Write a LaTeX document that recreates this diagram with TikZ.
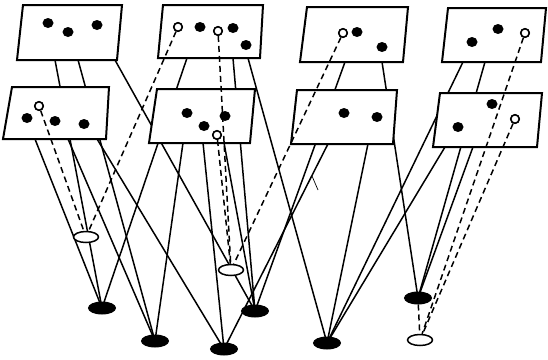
\documentclass[tikz,border=0pt]{standalone}
\usetikzlibrary{shapes.geometric}
\begin{document}
\begin{tikzpicture}[x=1pt,y=-1pt,
  wire/.style={line width=1.5pt},
  dwire/.style={line width=1.5pt, dash pattern=on 6pt off 4pt},
  box/.style={line width=2pt, fill=white, line join=miter},
  fdot/.style={ellipse, fill=black, minimum width=11pt, minimum height=10pt, inner sep=0pt},
  odot/.style={circle, draw, fill=white, line width=1.5pt, minimum size=8.5pt, inner sep=0pt},
  fcell/.style={ellipse, fill=black, draw, line width=1pt, minimum width=27pt, minimum height=12pt, inner sep=0pt},
  ocell/.style={ellipse, fill=white, draw, line width=1.5pt, minimum width=25pt, minimum height=11pt, inner sep=0pt}]
\useasboundingbox (0,0) rectangle (548,359);
% cell centres
\coordinate (cE1) at (86,237);
\coordinate (cE2) at (231,270);
\coordinate (cE3) at (420,340);
\coordinate (cF1) at (102,308);
\coordinate (cF2) at (155,341);
\coordinate (cF3) at (224,349);
\coordinate (cF4) at (255,311);
\coordinate (cF5) at (327,343);
\coordinate (cF6) at (418,298);
% hidden starts in the upper boxes
\coordinate (sA1) at (53.1,50);
\coordinate (sA2) at (75.3,50);
\coordinate (sA3) at (109.4,50);
\coordinate (sB1) at (190.4,48);
\coordinate (sB2) at (232.1,48);
\coordinate (sB3) at (245.2,48);
\coordinate (sC1) at (348.6,52);
\coordinate (sC2) at (380.5,52);
\coordinate (sD1) at (467.8,52);
\coordinate (sD2) at (487.8,52);
% lines from upper boxes
\draw[wire] (sA1) -- (cF1);
\draw[wire] (sA2) -- (cF2);
\draw[wire] (sA3) -- (cF4);
\draw[wire] (sB1) -- (cF1);
\draw[wire] (sB2) -- (cF4);
\draw[wire] (sB3) -- (cF5);
\draw[wire] (sC1) -- (cF4);
\draw[wire] (sC2) -- (cF6);
\draw[wire] (sD1) -- (cF5);
\draw[wire] (sD2) -- (cF6);
% upper boxes
\draw[box] (23,5) -- (122,5) -- (117,60) -- (17,60) -- cycle;
\draw[box] (163,5) -- (263,5) -- (260,58) -- (158,58) -- cycle;
\draw[box] (307,7) -- (408,7) -- (403,62) -- (300,62) -- cycle;
\draw[box] (448,8) -- (546,8) -- (541,62) -- (442,62) -- cycle;
\node[fdot] (a1) at (48,23) {};
\node[fdot] (a2) at (68,32) {};
\node[fdot] (a3) at (97,25) {};
\node[fdot] (b1) at (200,27) {};
\node[fdot] (b2) at (233,28) {};
\node[fdot] (b3) at (246,45) {};
\node[fdot] (c1) at (357,32) {};
\node[fdot] (c2) at (382,47) {};
\node[fdot] (d1) at (472,42) {};
\node[fdot] (d2) at (498,29) {};
% hidden starts in the lower boxes
\coordinate (sM1) at (31,129);
\coordinate (sM2) at (63.7,129);
\coordinate (sM3) at (91,129);
\coordinate (sN1) at (184.4,133);
\coordinate (sN2) at (202,133);
\coordinate (sN3) at (222.2,133);
\coordinate (sP1) at (333,134);
\coordinate (sP2) at (370,134);
\coordinate (sQ1) at (451,137);
\coordinate (sQ2) at (476.6,137);
\draw[wire] (sM1) -- (cF1);
\draw[wire] (sM2) -- (cF2);
\draw[wire] (sM3) -- (cF3);
\draw[wire] (sN1) -- (cF2);
\draw[wire] (sN2) -- (cF3);
\draw[wire] (sN3) -- (cF4);
\draw[wire] (sP1) -- (cF3);
\draw[wire] (sP2) -- (cF5);
\draw[wire] (sQ1) -- (cF5);
\draw[wire] (sQ2) -- (cF6);
% lower boxes
\draw[box] (12,87) -- (109,87) -- (106,139) -- (3,139) -- cycle;
\draw[box] (157,89) -- (255,89) -- (250,143) -- (149,143) -- cycle;
\draw[box] (297,90) -- (397,90) -- (393,144) -- (291,144) -- cycle;
\draw[box] (440,93) -- (542,93) -- (537,147) -- (433,147) -- cycle;
\node[fdot] (m1) at (27,118) {};
\node[fdot] (m2) at (55,121) {};
\node[fdot] (m3) at (84,124) {};
\node[fdot] (n1) at (187,113) {};
\node[fdot] (n2) at (204,126) {};
\node[fdot] (n3) at (225,116) {};
\node[fdot] (p1) at (344,113) {};
\node[fdot] (p2) at (377,117) {};
\node[fdot] (q1) at (492,104) {};
\node[fdot] (q2) at (458,127) {};
% stray tick
\coordinate (k1) at (312,176);
\coordinate (k2) at (318,190);
\draw[line width=0.7pt] (k1) -- (k2);
% cells
\node[ocell] (E1) at (cE1) {};
\node[ocell] (E2) at (cE2) {};
\node[ocell] (E3) at (cE3) {};
\node[fcell] (F1) at (cF1) {};
\node[fcell] (F2) at (cF2) {};
\node[fcell] (F3) at (cF3) {};
\node[fcell] (F4) at (cF4) {};
\node[fcell] (F5) at (cF5) {};
\node[fcell] (F6) at (cF6) {};
% open dots
\node[odot] (bo1) at (178,27) {};
\node[odot] (bo2) at (218,31) {};
\node[odot] (co1) at (343,33) {};
\node[odot] (do1) at (525,33) {};
\node[odot] (mo1) at (39,106) {};
\node[odot] (no1) at (217,135) {};
\node[odot] (qo1) at (515,119) {};
% dashed connectors
\draw[dwire] (bo1) -- (E1);
\draw[dwire] (mo1) -- (E1);
\draw[dwire] (bo2) -- (E2);
\draw[dwire] (no1) -- (E2);
\draw[dwire] (co1) -- (E2);
\draw[dwire] (do1) -- (E3);
\draw[dwire] (qo1) -- (E3);
\draw[dwire] (F6) -- (E3);
% redraw open dots on top
\foreach \o in {bo1,bo2,co1,do1,mo1,no1,qo1}
  \draw[line width=1.5pt, fill=white] (\o) circle (4.2pt);
\end{tikzpicture}
\end{document}
